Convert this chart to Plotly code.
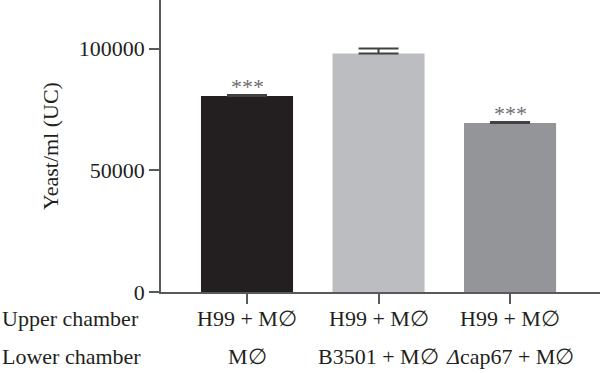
import plotly.graph_objects as go

# Data
categories = [0, 1, 2]
upper_labels = ["H99 + M∅", "H99 + M∅", "H99 + M∅"]
lower_labels = ["M∅", "B3501 + M∅", "<i>Δ</i>cap67 + M∅"]
values = [80500, 98000, 69500]
errors = [500, 2100, 400]
significance = ["***", "", "***"]
bar_colors = ["#231f20", "#bcbdc0", "#939598"]
y_ticks = [0, 50000, 100000]

FONT = "Liberation Serif"
FS = 22
W, H = 600, 373
L, R, T, B = 161, 0, 0, 81
plot_w = W - L - R
plot_h = H - T - B

fig = go.Figure()
fig.add_trace(go.Bar(
    x=categories, y=values, width=0.7,
    marker=dict(color=bar_colors, line=dict(width=0)),
    error_y=dict(type="data", array=errors, symmetric=False, arrayminus=[0, 0, 0],
                 color="#414042", thickness=2, width=20),
    showlegend=False,
))

annotations = []
for c, v, e, s in zip(categories, values, errors, significance):
    if s:
        annotations.append(dict(x=c, y=v + e, xref="x", yref="y", text=s, showarrow=False,
                                yanchor="bottom", yshift=-6,
                                font=dict(family=FONT, size=22, color="#6d6e71")))

def py(pix):
    return (T + plot_h - pix) / plot_h

for c, u, lo in zip(categories, upper_labels, lower_labels):
    annotations.append(dict(x=c, y=py(318), xref="x", yref="paper", text=u, showarrow=False,
                            yanchor="middle", xanchor="center",
                            font=dict(family=FONT, size=FS, color="#231f20")))
    annotations.append(dict(x=c, y=py(357), xref="x", yref="paper", text=lo, showarrow=False,
                            yanchor="middle", xanchor="center",
                            font=dict(family=FONT, size=FS, color="#231f20")))

annotations.append(dict(x=(0 - L) / plot_w, y=py(318), xref="paper", yref="paper", text="Upper chamber",
                        showarrow=False, xanchor="left", yanchor="middle",
                        font=dict(family=FONT, size=FS, color="#231f20")))
annotations.append(dict(x=(0 - L) / plot_w, y=py(357), xref="paper", yref="paper", text="Lower chamber",
                        showarrow=False, xanchor="left", yanchor="middle",
                        font=dict(family=FONT, size=FS, color="#231f20")))
annotations.append(dict(x=(50 - L) / plot_w, y=0.5, xref="paper", yref="paper", text="Yeast/ml (UC)",
                        showarrow=False, textangle=-90, xanchor="center", yanchor="middle",
                        font=dict(family=FONT, size=FS, color="#231f20")))

fig.update_layout(
    width=W, height=H,
    margin=dict(l=L, r=R, t=T, b=B, pad=0),
    plot_bgcolor="white", paper_bgcolor="white",
    annotations=annotations,
    xaxis=dict(range=[-0.654, 2.684], tickvals=categories, ticktext=["", "", ""],
               ticks="outside", ticklen=10, tickwidth=1.5, tickcolor="#58595b",
               showline=True, linecolor="#58595b", linewidth=1.5, showgrid=False, zeroline=False),
    yaxis=dict(range=[0, 120000], tickvals=y_ticks, ticktext=[str(t) for t in y_ticks],
               ticks="outside", ticklen=10, tickwidth=1.5, tickcolor="#58595b",
               showline=True, linecolor="#58595b", linewidth=1.5, showgrid=False, zeroline=False,
               tickfont=dict(family=FONT, size=FS, color="#231f20")),
)

fig.write_html("out.html", config={"displayModeBar": False},
               post_script="document.body.style.margin='0';")
